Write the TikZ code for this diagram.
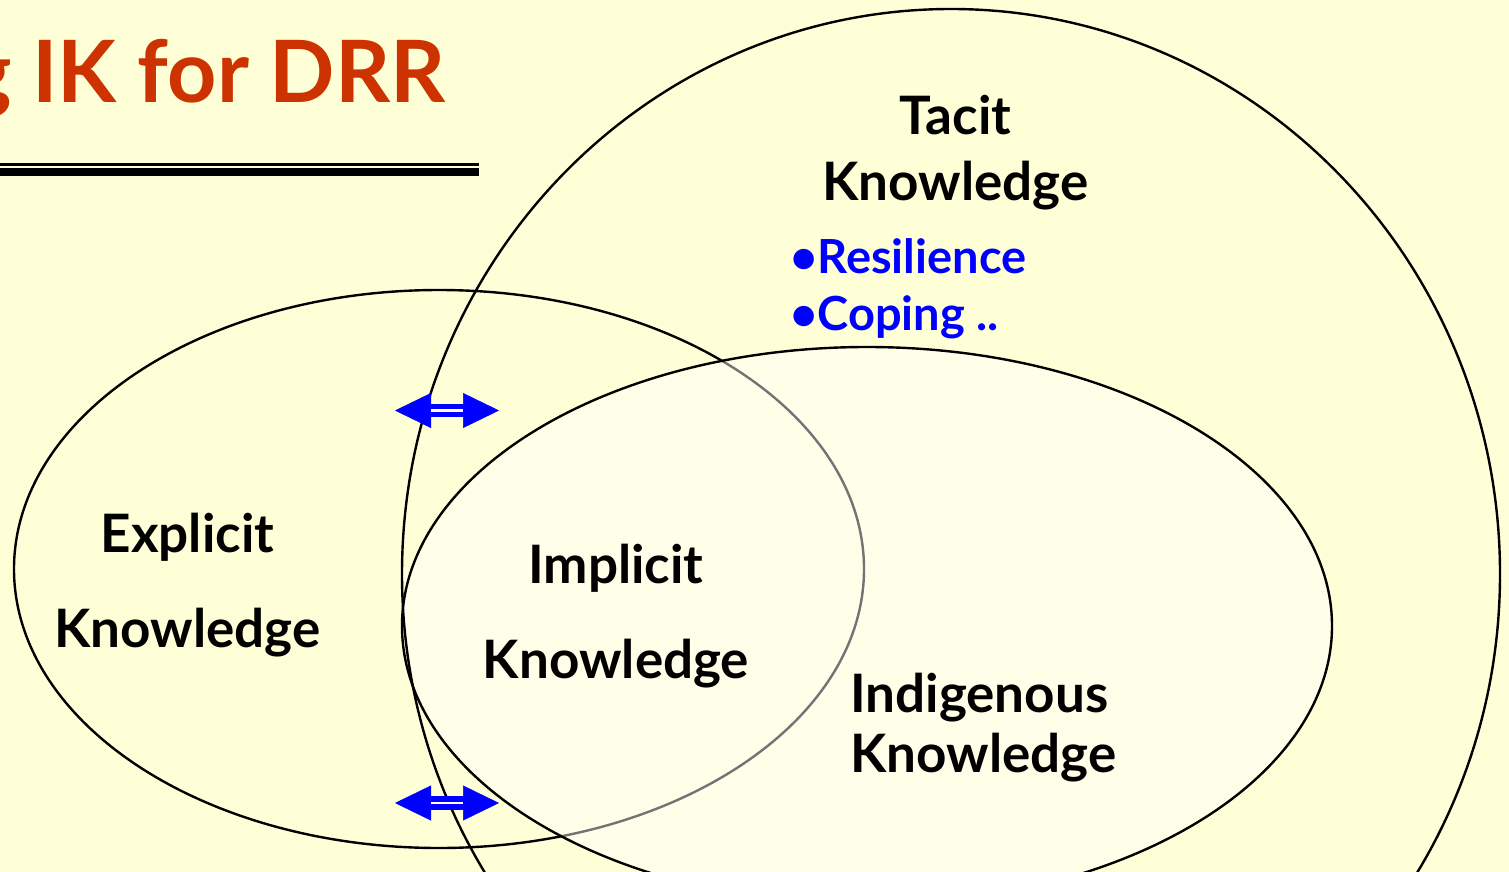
\documentclass[tikz,border=0pt]{standalone}
\usepackage{fontspec}
\setmainfont{Lato}
\usetikzlibrary{arrows.meta}
\definecolor{slidebg}{RGB}{255,255,215}
\definecolor{titlered}{RGB}{204,51,0}
\definecolor{itemblue}{RGB}{0,0,255}

\begin{document}
\begin{tikzpicture}[
  x=1pt, y=-1pt,
  ring/.style={draw=black, line width=2.4pt},
  lbl/.style={anchor=base, inner sep=0pt, font=\fontsize{53}{60}\selectfont\bfseries},
  item/.style={anchor=base west, inner sep=0pt, text=itemblue, font=\fontsize{47}{52}\selectfont\bfseries},
  twoway/.style={draw=itemblue, fill=itemblue, line width=0.5pt,
    {Triangle[length=36pt,width=35pt]}-{Triangle[length=36pt,width=35pt]}},
  shaft/.style={draw=itemblue, line width=13.5pt, shorten <=34pt, shorten >=34pt},
  gap/.style={draw=white, line width=2.2pt, shorten <=36pt, shorten >=36pt, yshift=-2pt}
]
  \fill[slidebg] (0,0) rectangle (1509,872);
  \useasboundingbox (0,0) rectangle (1509,872);
  \clip (0,0) rectangle (1509,872);

  \node[anchor=base east, inner sep=0pt, text=titlered,
    font=\fontsize{86}{90}\selectfont\bfseries] (title) at (446,103) {g IK for DRR};
  \draw[line width=2.7pt] (0,164.7) -- (479,164.7);
  \draw[line width=7.3pt] (0,172) -- (479,172);

  \draw[ring] (439,569) ellipse [x radius=425pt, y radius=279pt];
  \draw[ring, fill=white, fill opacity=0.45] (867,626) ellipse [x radius=465pt, y radius=279pt];
  \draw[ring] (951,574) ellipse [x radius=549pt, y radius=565pt];

  \node[lbl] (tacit) at (955.5,135) {Tacit};
  \node[lbl] (tacitk) at (955.5,200) {Knowledge};
  \node[item] (resil) at (790,273) {•Resilience};
  \node[item] (coping) at (790,330) {•Coping ..};
  \node[lbl] (explicit) at (187.5,552) {Explicit};
  \node[lbl] (explicitk) at (187.5,647) {Knowledge};
  \node[lbl] (implicit) at (616,583) {Implicit};
  \node[lbl] (implicitk) at (616,678) {Knowledge};
  \node[lbl, anchor=base west] (indig) at (850,712) {Indigenous};
  \node[lbl, anchor=base west] (indigk) at (850,772) {Knowledge};

  \coordinate (topw) at (395,410.5);
  \coordinate (tope) at (499,410.5);
  \coordinate (botw) at (395,803);
  \coordinate (bote) at (499,803);
  \foreach \w/\e in {topw/tope, botw/bote} {
    \draw[shaft] (\w) -- (\e);
    \draw[twoway] (\w) -- (\e);
    \draw[gap] (\w) -- (\e);
  }
\end{tikzpicture}
\end{document}
